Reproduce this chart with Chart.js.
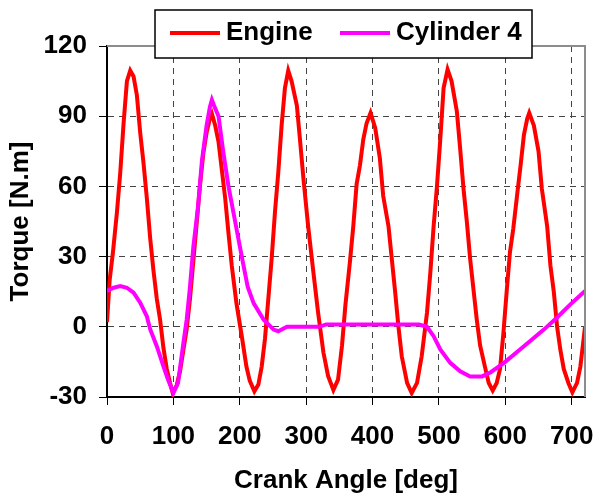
<!DOCTYPE html>
<html>
<head>
<meta charset="utf-8">
<script src="https://cdn.jsdelivr.net/npm/chart.js@4.4.0/dist/chart.umd.min.js"></script>
<style>
  html, body { margin: 0; padding: 0; background: #fff; }
  canvas { display: block; }
</style>
</head>
<body>
<canvas id="torqueChart" width="596" height="494"></canvas>
<script>
// Engine torque trace (crank angle in deg, torque in N.m)
const engineAngle = [0, 4, 9, 15, 20, 25, 30, 35, 40, 45, 50, 55, 60, 65, 70, 75, 80, 85, 90, 95,
    99, 105, 110, 115, 120, 125, 130, 135, 140, 145, 150, 155, 158, 163, 168, 173, 178, 183, 188, 195,
    203, 210, 215, 222, 228, 233, 238, 243, 248, 253, 258, 263, 268, 273, 278, 286, 291, 296, 303, 311,
    318, 326, 333, 341, 348, 354, 359, 366, 371, 376, 381, 386, 391, 397, 404, 411, 416, 424, 429, 434,
    439, 444, 452, 459, 467, 474, 482, 487, 492, 497, 502, 507, 513, 519, 527, 532, 537, 542, 547, 552,
    557, 562, 570, 575, 581, 587, 592, 597, 602, 607, 612, 618, 623, 628, 633, 636, 643, 650, 655, 663,
    668, 673, 678, 683, 688, 695, 701, 708, 713, 718, 720];
const engineTorque = [2, 20, 32, 49, 66, 87, 105, 109.5, 107, 99, 83, 70, 55, 38, 24, 12, 3, -9, -18, -24,
    -28.3, -25, -19, -10, -1, 12, 28, 44, 60, 74, 83, 89, 91, 86, 79, 67, 55, 40, 26, 10,
    -4, -17, -23, -27.6, -24.7, -17, -5, 12, 29, 49, 66, 86, 102, 109.5, 105, 94.5, 79, 63, 43, 23,
    6, -11, -21, -27, -22.6, -8, 9, 28, 43, 61, 69, 80, 87, 91.4, 85, 72, 56, 43, 29, 15,
    0, -12.6, -24, -28.3, -24, -12.6, 6, 23, 43, 60, 80, 102, 110, 105, 92, 76, 59, 45, 29, 16,
    3, -8, -18, -24, -27.2, -24, -18, -3, 15, 32, 42, 57, 69, 82, 89, 91.4, 86, 75, 59, 43,
    26, 15, 0, -10, -18, -24, -28, -24, -17, -5, 0];

// Cylinder 4 torque trace
const cylAngle = [0, 10, 20, 30, 40, 50, 60, 65, 75, 85, 92, 100, 107, 115, 120, 125, 130, 137, 143, 150,
    155, 158, 162, 168, 175, 183, 193, 203, 212, 221, 236, 251, 258, 271, 300, 320, 330, 460, 470, 482,
    492, 502, 517, 532, 547, 565, 578, 598, 628, 658, 678, 698, 720];
const cylTorque = [15.3, 16.7, 17.4, 16.7, 14.6, 10.3, 4.5, -1, -8.3, -16.9, -22.6, -28.3, -24, -7, 3, 17, 34, 51, 71, 86,
    94, 97, 94, 90, 75, 60, 45, 30, 17, 10, 3, -1.2, -1.9, 0, 0, 0, 1, 1, 1, 0,
    -4, -9.7, -15.4, -19, -21.2, -21.2, -19.4, -15.4, -8.3, -1.2, 4, 9.6, 15.3];

const seriesNames = ['Engine', 'Cylinder 4'];
const seriesColors = ['#ff0000', '#ff00ff'];

// Axis ticks
const xTicks = [0, 100, 200, 300, 400, 500, 600, 700];
const yTicks = [-30, 0, 30, 60, 90, 120];

const FONT = "'Liberation Sans', Arial, sans-serif";
const labelFont = { family: FONT, size: 26, weight: 'bold' };
const titleFont = { family: FONT, size: 26, weight: 'bold', lineHeight: 1 };

function toPoints(xs, ys) {
    return xs.map((x, i) => ({ x: x, y: ys[i] }));
}

// Plot frame (grey top/right) and boxed legend drawn over the plot
const frameLegendPlugin = {
    id: 'frameLegend',
    afterDraw(chart) {
        const { ctx, chartArea: a } = chart;
        ctx.save();
        ctx.strokeStyle = '#8c8c8c';
        ctx.lineWidth = 2;
        ctx.beginPath();
        ctx.moveTo(a.left, a.top);
        ctx.lineTo(a.right, a.top);
        ctx.lineTo(a.right, a.bottom);
        ctx.stroke();

        // legend box
        const bx = 155, by = 10, bw = 377, bh = 48;
        ctx.fillStyle = '#ffffff';
        ctx.fillRect(bx, by, bw, bh);
        ctx.strokeStyle = '#000';
        ctx.lineWidth = 1.5;
        ctx.strokeRect(bx, by, bw, bh);

        const itemX = [170, 340];
        ctx.font = 'bold 26px ' + FONT;
        ctx.textBaseline = 'alphabetic';
        ctx.textAlign = 'left';
        chart.data.datasets.forEach((ds, i) => {
            const sx = itemX[i];
            ctx.strokeStyle = ds.borderColor;
            ctx.lineWidth = 4;
            ctx.beginPath();
            ctx.moveTo(sx, 33);
            ctx.lineTo(sx + 50, 33);
            ctx.stroke();
            ctx.fillStyle = '#000';
            ctx.fillText(ds.label, sx + 56, 40);
        });
        ctx.restore();
    }
};

const ctx = document.getElementById('torqueChart');
new Chart(ctx, {
    type: 'line',
    data: {
        datasets: [
            {
                label: seriesNames[0],
                data: toPoints(engineAngle, engineTorque),
                borderColor: seriesColors[0],
                borderWidth: 4,
                pointRadius: 0,
                tension: 0,
                order: 1
            },
            {
                label: seriesNames[1],
                data: toPoints(cylAngle, cylTorque),
                borderColor: seriesColors[1],
                borderWidth: 4,
                pointRadius: 0,
                tension: 0,
                order: 0
            }
        ]
    },
    options: {
        responsive: false,
        animation: false,
        devicePixelRatio: 1,
        layout: { padding: { left: 0, right: 11, top: 46, bottom: 0 } },
        plugins: {
            legend: { display: false },
            tooltip: { enabled: false }
        },
        scales: {
            x: {
                type: 'linear',
                min: 0,
                max: 720,
                afterBuildTicks: (scale) => { scale.ticks = xTicks.map(v => ({ value: v })); },
                afterFit: (scale) => { scale.height = 97; scale.paddingLeft = 0; scale.paddingRight = 0; },
                grid: {
                    color: (c) => (c.tick && c.tick.value === 0 ? 'transparent' : '#444'),
                    lineWidth: 1,
                    tickColor: '#000',
                    tickLength: 8
                },
                border: { color: '#000', width: 2, dash: [6, 5] },
                ticks: {
                    color: '#000',
                    padding: 16,
                    maxRotation: 0,
                    font: labelFont
                },
                title: {
                    display: true,
                    text: 'Crank Angle [deg]',
                    color: '#000',
                    padding: { top: 0, bottom: 0 },
                    font: titleFont
                }
            },
            y: {
                min: -30,
                max: 120,
                afterBuildTicks: (scale) => { scale.ticks = yTicks.map(v => ({ value: v })); },
                afterFit: (scale) => { scale.width = 107; },
                grid: {
                    color: (c) => (c.tick && (c.tick.value === 120 || c.tick.value === -30) ? 'transparent' : '#444'),
                    lineWidth: 1,
                    tickColor: '#000',
                    tickLength: 8
                },
                border: { color: '#000', width: 2, dash: [6, 5] },
                ticks: {
                    color: '#000',
                    padding: 12,
                    font: labelFont
                },
                title: {
                    display: true,
                    text: 'Torque [N.m]',
                    color: '#000',
                    padding: { top: 8, bottom: 0 },
                    font: titleFont
                }
            }
        }
    },
    plugins: [frameLegendPlugin]
});
</script>
</body>
</html>
